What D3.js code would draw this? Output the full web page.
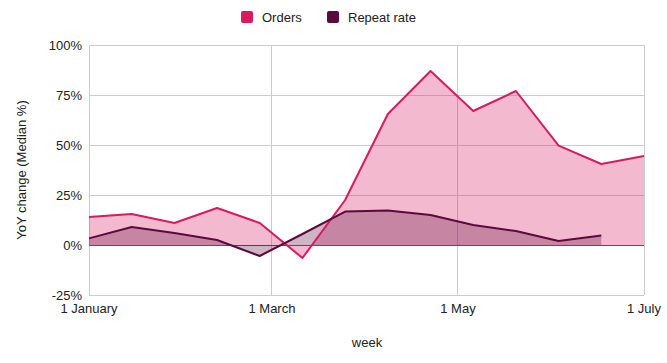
<!DOCTYPE html>
<html><head><meta charset="utf-8">
<script src="https://cdn.jsdelivr.net/npm/d3@7"></script>
<style>body{margin:0;background:#fff}svg{display:block;font-family:"Liberation Sans",Arial,sans-serif}</style>
</head><body><svg id="c" width="667" height="363"></svg>
<script>
const dates = ["2020-01-01","2020-01-15","2020-01-29","2020-02-12","2020-02-26","2020-03-11","2020-03-25","2020-04-08","2020-04-22","2020-05-06","2020-05-20","2020-06-03","2020-06-17","2020-07-01"];
const orders = [14, 15.5, 11, 18.5, 11, -6.5, 22.5, 65.5, 87, 67, 77, 49.7, 40.5, 44.5];
const repeatRate = [3.3, 9, 6, 2.5, -5.5, 5.5, 16.7, 17.3, 15, 10, 7, 2, 4.7, null];
const seriesNames = ["Orders", "Repeat rate"];
const yTicks = [-25, 0, 25, 50, 75, 100];
const xTickDates = ["2020-01-01","2020-03-01","2020-05-01","2020-07-01"];
const xTickLabels = ["1 January","1 March","1 May","1 July"];
const colors = ["#d81b60", "#5c0a3e"];

const svg = d3.select("#c");
const L = 89, R = 644, T = 45, B = 295;
const parse = d3.utcParse("%Y-%m-%d");
const x = d3.scaleUtc().domain([parse(dates[0]), parse(dates[dates.length-1])]).range([L, R]);
const y = d3.scaleLinear().domain([-25, 100]).range([B, T]);

// gridlines
const g = svg.append("g");
yTicks.forEach(t => g.append("line").attr("x1", L).attr("x2", R).attr("y1", y(t)).attr("y2", y(t))
  .attr("stroke", "#cccccc").attr("stroke-width", 1).attr("shape-rendering","crispEdges"));
xTickDates.forEach(d => g.append("line").attr("x1", x(parse(d))).attr("x2", x(parse(d))).attr("y1", T).attr("y2", B)
  .attr("stroke", "#cccccc").attr("stroke-width", 1).attr("shape-rendering","crispEdges"));
// baseline
g.append("line").attr("x1", L).attr("x2", R).attr("y1", y(0)).attr("y2", y(0)).attr("stroke", "#555").attr("stroke-width", 1).attr("shape-rendering","crispEdges");

const sets = [orders, repeatRate];
const pts = sets.map(vals => dates.map((d, i) => ({d: parse(d), v: vals[i]})).filter(p => p.v !== null));
const area = d3.area().x(p => x(p.d)).y0(y(0)).y1(p => y(p.v));
const line = d3.line().x(p => x(p.d)).y(p => y(p.v));
pts.forEach((p, i) => svg.append("path").attr("d", area(p)).attr("fill", colors[i]).attr("fill-opacity", 0.3));
pts.forEach((p, i) => svg.append("path").attr("d", line(p)).attr("fill", "none").attr("stroke", colors[i]).attr("stroke-width", 2).attr("stroke-linejoin","round"));

// y axis labels
yTicks.forEach(t => svg.append("text").attr("x", 82).attr("y", y(t)).attr("dy", "0.35em").attr("text-anchor", "end")
  .attr("font-size", 13).attr("fill", "#222").text(t + "%"));
// x axis labels
xTickDates.forEach((d, i) => svg.append("text").attr("x", x(parse(d))).attr("y", 313).attr("text-anchor", "middle")
  .attr("font-size", 13).attr("fill", "#222").text(xTickLabels[i]));
// titles
svg.append("text").attr("x", 367).attr("y", 347).attr("text-anchor", "middle").attr("font-size", 13).attr("fill", "#222").text("week");
svg.append("text").attr("transform", "translate(26,170) rotate(-90)").attr("text-anchor", "middle").attr("font-size", 13).attr("fill", "#222").text("YoY change (Median %)");

// legend
const lx = [241, 327];
seriesNames.forEach((n, i) => {
  svg.append("rect").attr("x", lx[i]).attr("y", 11).attr("width", 12).attr("height", 12).attr("rx", 2).attr("fill", colors[i]);
  svg.append("text").attr("x", lx[i] + 21).attr("y", 17).attr("dy", "0.35em").attr("font-size", 13).attr("fill", "#222").text(n);
});
</script></body></html>
